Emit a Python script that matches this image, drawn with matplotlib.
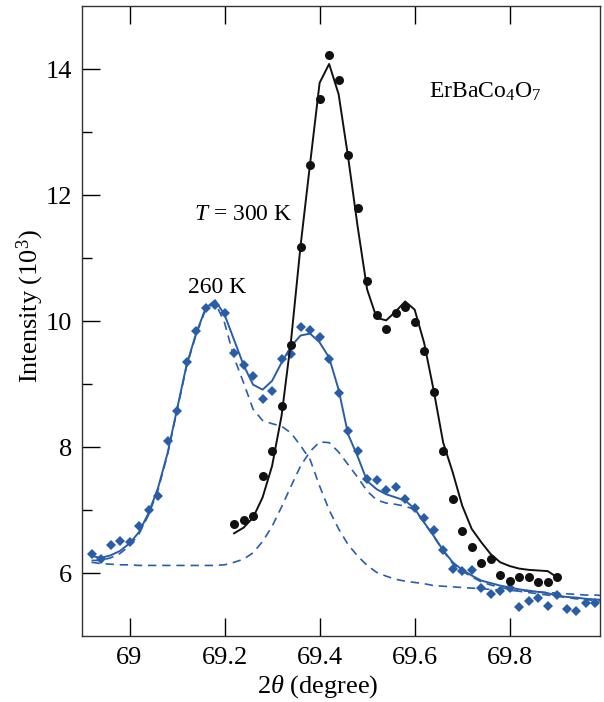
import matplotlib
matplotlib.use('Agg')
import matplotlib.pyplot as plt
import numpy as np

plt.rcParams['font.family'] = 'Liberation Serif'
plt.rcParams['mathtext.fontset'] = 'custom'
plt.rcParams['mathtext.rm'] = 'Liberation Serif'
plt.rcParams['mathtext.it'] = 'Liberation Serif:italic'

# 300 K data (black dots) and fit
x300 = np.round(np.arange(69.22, 69.901, 0.02), 2)
y300 = [6.78, 6.84, 6.90, 7.54, 7.93, 8.65, 9.62, 11.17, 12.47, 13.53,
        14.22, 13.83, 12.63, 11.79, 10.64, 10.09, 9.88, 10.12, 10.23, 9.98,
        9.53, 8.88, 7.94, 7.18, 6.67, 6.42, 6.16, 6.22, 5.97, 5.88,
        5.94, 5.94, 5.85, 5.85, 5.93]
fit300 = [6.63, 6.72, 6.88, 7.20, 7.70, 8.50, 9.70, 11.20, 12.50, 13.78,
          14.08, 13.60, 12.60, 11.50, 10.50, 10.05, 10.01, 10.15, 10.31, 10.18,
          9.65, 8.90, 8.07, 7.60, 7.07, 6.70, 6.49, 6.30, 6.17, 6.11,
          6.07, 6.05, 6.04, 6.03, 5.93]

# 260 K data (blue diamonds) and fits
x260 = np.round(np.arange(68.92, 69.981, 0.02), 2)
y260 = [6.30, 6.23, 6.44, 6.51, 6.50, 6.74, 7.00, 7.22, 8.10, 8.57,
        9.35, 9.84, 10.21, 10.26, 10.13, 9.49, 9.30, 9.12, 8.76, 8.89,
        9.39, 9.47, 9.91, 9.85, 9.74, 9.40, 8.86, 8.25, 7.94, 7.50,
        7.47, 7.32, 7.37, 7.18, 7.03, 6.88, 6.68, 6.36, 6.06, 6.03,
        6.04, 5.76, 5.67, 5.71, 5.76, 5.46, 5.55, 5.60, 5.48, 5.65,
        5.43, 5.40, 5.52, 5.52]

xfit = np.round(np.arange(68.92, 70.001, 0.02), 2)
fit260 = [6.27, 6.24, 6.28, 6.35, 6.47, 6.65, 6.95, 7.35, 7.90,
          8.60, 9.30, 9.80, 10.20, 10.33, 10.10, 9.70, 9.30, 8.99, 8.91,
          9.05, 9.34, 9.60, 9.77, 9.80, 9.66, 9.42, 8.91, 8.20, 7.85,
          7.46, 7.33, 7.25, 7.20, 7.15, 7.02, 6.80, 6.59, 6.36, 6.17,
          6.05, 5.96, 5.88, 5.84, 5.80, 5.77, 5.74, 5.72, 5.70, 5.68,
          5.64, 5.62, 5.61, 5.59, 5.58, 5.57]
# component with the 69.18 peak
compB = [6.20, 6.20, 6.24, 6.31, 6.43, 6.62, 6.92, 7.32, 7.88,
         8.58, 9.28, 9.78, 10.18, 10.30, 9.97, 9.42, 9.02, 8.60, 8.42,
         8.37, 8.33, 8.22, 8.02, 7.80, 7.38, 7.00, 6.70, 6.45, 6.27,
         6.12, 6.01, 5.95, 5.90, 5.87, 5.85, 5.83, 5.80, 5.79, 5.78,
         5.77, 5.76, 5.75, 5.74, 5.73, 5.72, 5.72, 5.71, 5.70, 5.69,
         5.68, 5.67, 5.66, 5.65, 5.65, 5.64]
# component with the 69.41 peak
compA = [6.17, 6.15, 6.14, 6.13, 6.13, 6.12, 6.12, 6.12, 6.12,
         6.12, 6.12, 6.12, 6.12, 6.12, 6.13, 6.17, 6.22, 6.32, 6.50,
         6.74, 7.05, 7.38, 7.70, 7.93, 8.08, 8.07, 7.92, 7.72, 7.52,
         7.30, 7.16, 7.11, 7.09, 7.06, 7.01, 6.80, 6.58, 6.35, 6.15,
         6.03, 5.94, 5.86, 5.81, 5.77, 5.74, 5.71, 5.69, 5.67, 5.65,
         5.63, 5.61, 5.59, 5.58, 5.56, 5.55]

blue = '#2a5da8'

fig = plt.figure(figsize=(6.04, 7.02), dpi=100)
ax = fig.add_axes([82/604, 1-636/702, 518/604, 630/702])

ax.plot(xfit, compA, color=blue, lw=1.2, ls=(0, (5, 3.5)))
ax.plot(xfit, compB, color=blue, lw=1.2, ls=(0, (5, 3.5)))
ax.plot(xfit, fit260, color=blue, lw=1.4)
ax.plot(x260, y260, 'D', color=blue, ms=5.6, mew=0)
ax.plot(x300, fit300, color='#111111', lw=1.4)
ax.plot(x300, y300, 'o', color='#111111', ms=6.5, mew=0)

ax.set_xlim(68.90, 69.99)
ax.set_ylim(5.0, 15.0)
ax.set_xticks([69, 69.2, 69.4, 69.6, 69.8])
ax.set_xticklabels(['69', '69.2', '69.4', '69.6', '69.8'])
ax.set_yticks([6, 8, 10, 12, 14])
ax.set_yticks([7, 9, 11, 13], minor=True)
ax.tick_params(axis='both', which='major', direction='in', length=13,
               width=1.0, labelsize=19, pad=7)
ax.tick_params(axis='x', top=True, bottom=True, pad=8)
ax.tick_params(axis='y', which='minor', direction='in', length=7, width=1.0)
for s in ax.spines.values():
    s.set_linewidth(1.0)
    s.set_color('#333333')

ax.set_xlabel(r'2$\it{\theta}$ (degree)', fontsize=19, va='baseline')
ax.set_ylabel(r'Intensity (10$^3$)', fontsize=19)
ax.xaxis.set_label_coords((318-82)/518, -(693-636)/630)
ax.yaxis.set_label_coords(-(82-46)/518, (636-306)/630)

ax.text(69.63, 13.55, r'ErBaCo$_4$O$_7$', fontsize=17, va='baseline')
ax.text(69.136, 11.61, r'$\it{T}$ = 300 K', fontsize=17, va='baseline')
ax.text(69.123, 10.45, '260 K', fontsize=17, va='baseline')

fig.savefig('out.png', dpi=100)
